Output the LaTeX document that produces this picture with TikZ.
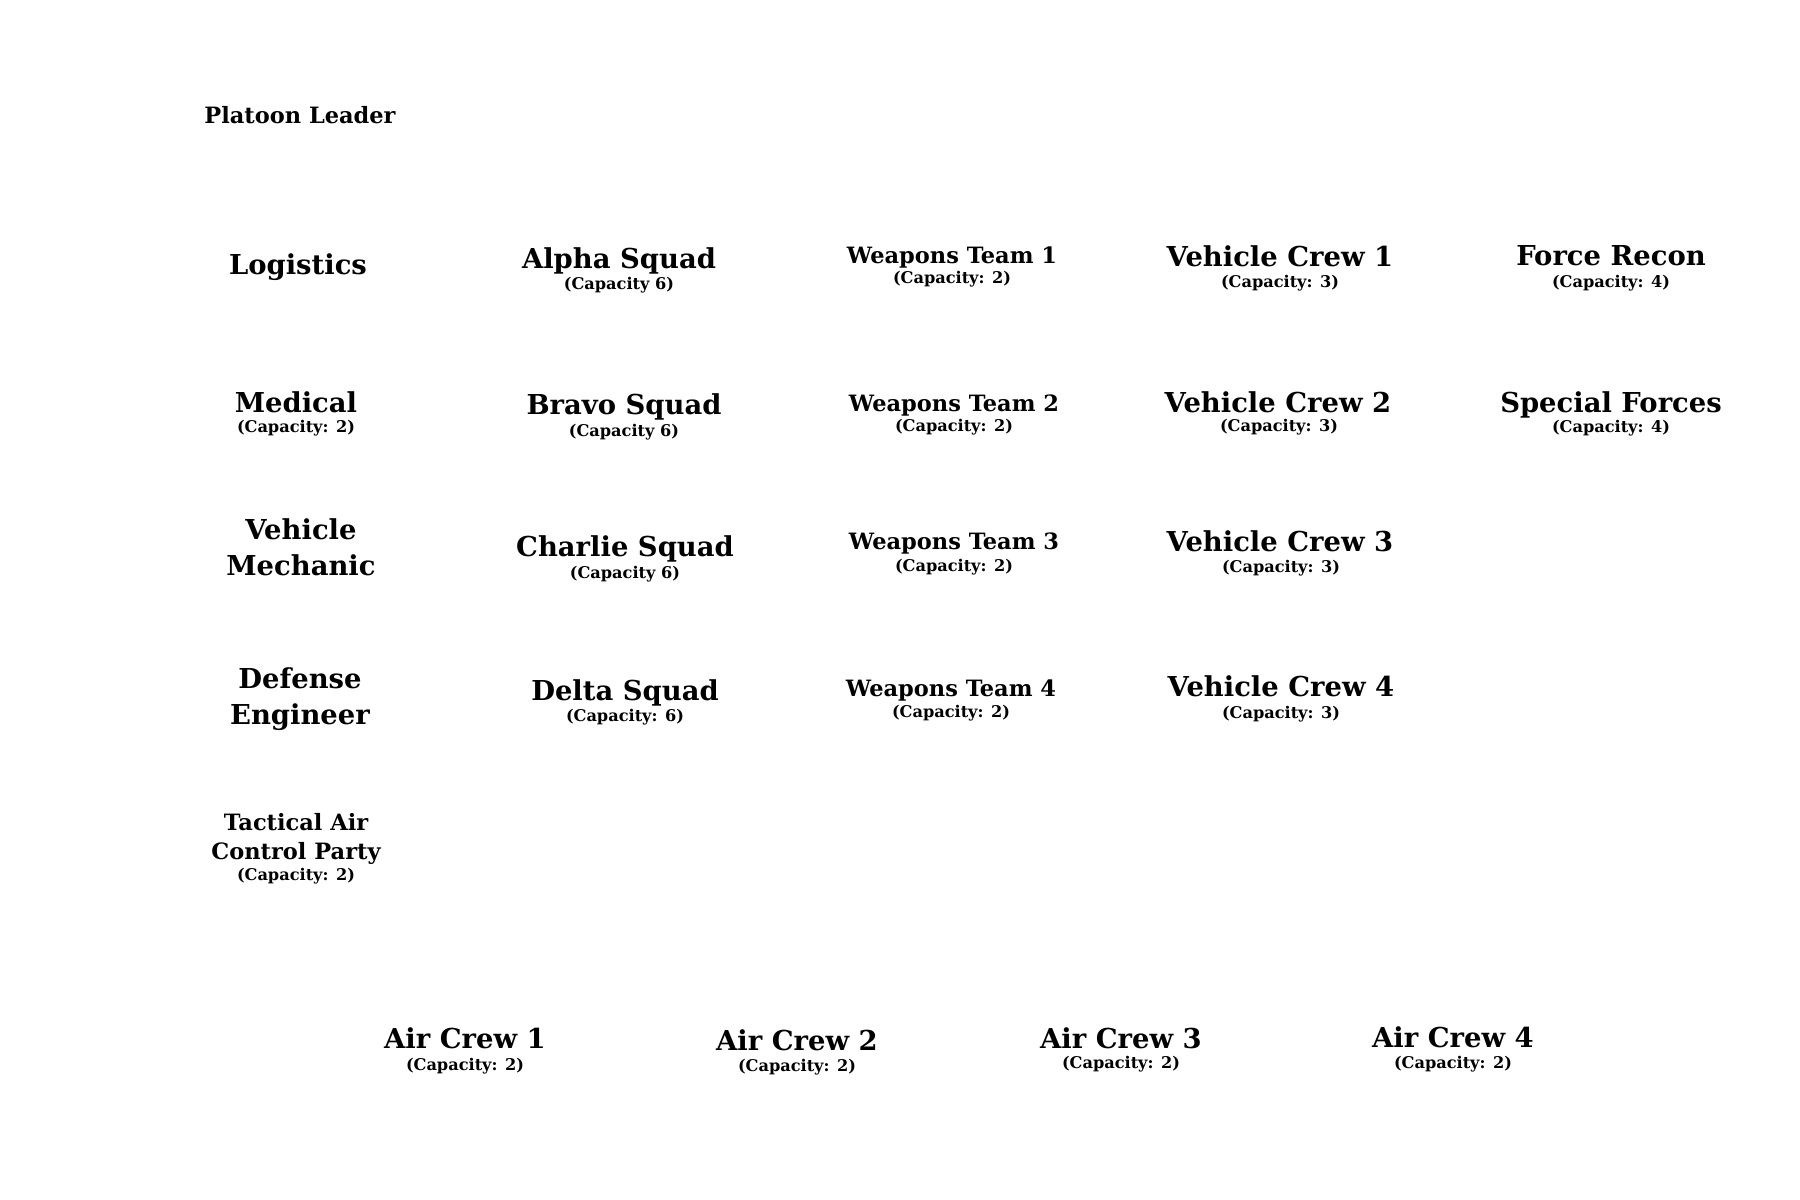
\documentclass[tikz,border=0pt]{standalone}
\usepackage{fontspec}
\setmainfont{DejaVu Serif}
\begin{document}
\begin{tikzpicture}[
    unit/.style={font=\bfseries\fontsize{7.8}{10.2}\selectfont, inner sep=0pt, anchor=base, align=center},
    team/.style={font=\bfseries\fontsize{6.4}{8.2}\selectfont, inner sep=0pt, anchor=base, align=center},
    capacity/.style={font=\bfseries\fontsize{4.6}{5.6}\selectfont, inner sep=0pt, anchor=base}]
\useasboundingbox (0,0) rectangle (18,-12);

% Marking platoon leader
\node [team] (leader) at (3.00,-1.23) {Platoon Leader};

% Column of support units
\node [unit] (logistics) at (2.98,-2.74) {Logistics};
\node [unit] (medical) at (2.96,-4.12) {Medical};
\node [capacity] (medical-cap) at (2.96,-4.32) {(Capacity: 2)};
\node [unit] (mechanic) at (3.01,-5.75) {Vehicle\\Mechanic};
\node [unit] (engineer) at (3.00,-7.24) {Defense\\Engineer};
\node [team] (tacp) at (2.96,-8.59) {Tactical Air\\Control Party};
\node [capacity] (tacp-cap) at (2.96,-8.80) {(Capacity: 2)};

% Column of squads
\node [unit] (alpha) at (6.19,-2.68) {Alpha Squad};
\node [capacity] (alpha-cap) at (6.19,-2.89) {(Capacity 6)};
\node [unit] (bravo) at (6.24,-4.14) {Bravo Squad};
\node [capacity] (bravo-cap) at (6.24,-4.36) {(Capacity 6)};
\node [unit] (charlie) at (6.25,-5.56) {Charlie Squad};
\node [capacity] (charlie-cap) at (6.25,-5.78) {(Capacity 6)};
\node [unit] (delta) at (6.25,-7.00) {Delta Squad};
\node [capacity] (delta-cap) at (6.25,-7.21) {(Capacity: 6)};

% Column of weapons teams
\node [team] (weapons1) at (9.52,-2.63) {Weapons Team 1};
\node [capacity] (weapons1-cap) at (9.52,-2.83) {(Capacity: 2)};
\node [team] (weapons2) at (9.54,-4.11) {Weapons Team 2};
\node [capacity] (weapons2-cap) at (9.54,-4.31) {(Capacity: 2)};
\node [team] (weapons3) at (9.54,-5.49) {Weapons Team 3};
\node [capacity] (weapons3-cap) at (9.54,-5.71) {(Capacity: 2)};
\node [team] (weapons4) at (9.51,-6.96) {Weapons Team 4};
\node [capacity] (weapons4-cap) at (9.51,-7.17) {(Capacity: 2)};

% Column of vehicle crews
\node [unit] (vehicle1) at (12.80,-2.66) {Vehicle Crew 1};
\node [capacity] (vehicle1-cap) at (12.80,-2.87) {(Capacity: 3)};
\node [unit] (vehicle2) at (12.78,-4.12) {Vehicle Crew 2};
\node [capacity] (vehicle2-cap) at (12.79,-4.31) {(Capacity: 3)};
\node [unit] (vehicle3) at (12.80,-5.51) {Vehicle Crew 3};
\node [capacity] (vehicle3-cap) at (12.81,-5.72) {(Capacity: 3)};
\node [unit] (vehicle4) at (12.81,-6.96) {Vehicle Crew 4};
\node [capacity] (vehicle4-cap) at (12.81,-7.18) {(Capacity: 3)};

% Column of special units
\node [unit] (recon) at (16.11,-2.65) {Force Recon};
\node [capacity] (recon-cap) at (16.11,-2.87) {(Capacity: 4)};
\node [unit] (special) at (16.11,-4.12) {Special Forces};
\node [capacity] (special-cap) at (16.11,-4.32) {(Capacity: 4)};

% Row of air crews
\node [unit] (air1) at (4.65,-10.48) {Air Crew 1};
\node [capacity] (air1-cap) at (4.65,-10.70) {(Capacity: 2)};
\node [unit] (air2) at (7.97,-10.50) {Air Crew 2};
\node [capacity] (air2-cap) at (7.97,-10.71) {(Capacity: 2)};
\node [unit] (air3) at (11.21,-10.48) {Air Crew 3};
\node [capacity] (air3-cap) at (11.21,-10.68) {(Capacity: 2)};
\node [unit] (air4) at (14.53,-10.47) {Air Crew 4};
\node [capacity] (air4-cap) at (14.53,-10.68) {(Capacity: 2)};
\end{tikzpicture}
\end{document}
